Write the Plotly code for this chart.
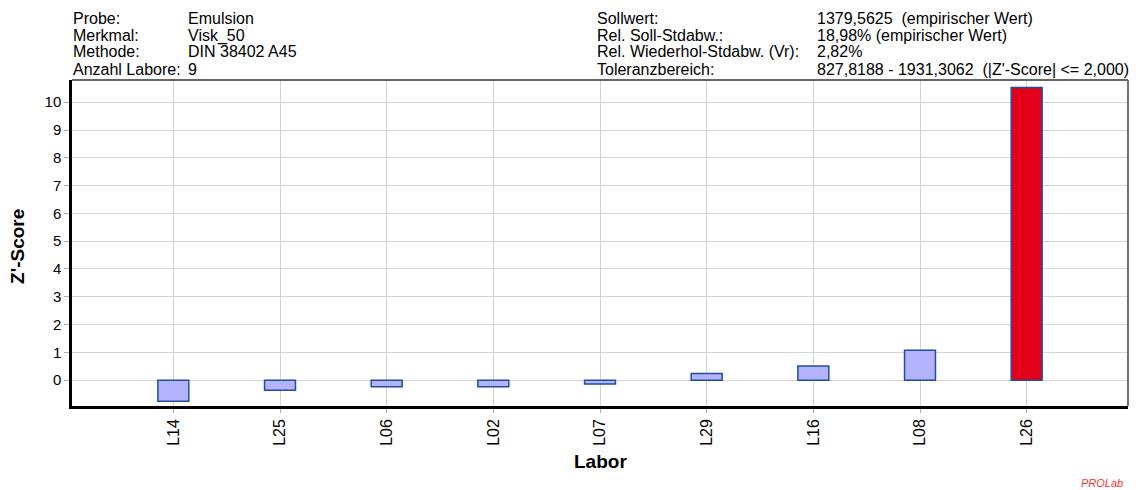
import plotly.graph_objects as go

# Z'-scores per laboratory (sorted ascending)
labs = ["L14", "L25", "L06", "L02", "L07", "L29", "L16", "L08", "L26"]
z_scores = [-0.76, -0.36, -0.24, -0.24, -0.14, 0.24, 0.51, 1.08, 10.53]
z_limit = 2.0

y_ticks = list(range(0, 11))

header_left_labels = ["Probe:", "Merkmal:", "Methode:", "Anzahl Labore:"]
header_left_values = ["Emulsion", "Visk_50", "DIN 38402 A45", "9"]
header_right_labels = ["Sollwert:", "Rel. Soll-Stdabw.:", "Rel. Wiederhol-Stdabw. (Vr):", "Toleranzbereich:"]
header_right_values = ["1379,5625  (empirischer Wert)", "18,98% (empirischer Wert)", "2,82%",
                       "827,8188 - 1931,3062  (|Z'-Score| <= 2,000)"]

FONT = "Liberation Sans, Arial, sans-serif"
fill_ok = "#b3b3ff"
fill_bad = "#e2001a"
edge = "#1f4e9e"

colors = [fill_bad if abs(z) > z_limit else fill_ok for z in z_scores]

fig = go.Figure()
fig.add_trace(go.Bar(
    x=list(range(len(labs))),
    y=z_scores,
    width=0.29,
    marker=dict(color=colors, line=dict(color=edge, width=1.5)),
    hoverinfo="skip",
))

fig.update_layout(
    width=1145, height=490,
    margin=dict(l=72, r=17, t=80, b=84),
    paper_bgcolor="white", plot_bgcolor="white",
    showlegend=False,
    font=dict(family=FONT, size=15, color="#000"),
    xaxis=dict(
        range=[-0.95, 8.95],
        tickvals=list(range(len(labs))), ticktext=labs,
        tickangle=-90,
        showgrid=True, gridcolor="#d4d4d4", gridwidth=1,
        ticks="outside", ticklen=4, tickcolor="#b0b0b0",
        showline=True, linecolor="#000", linewidth=2.5,
        zeroline=False,
        tickfont=dict(size=16),
    ),
    yaxis=dict(
        range=[-0.93, 10.8],
        tickvals=y_ticks,
        showgrid=True, gridcolor="#d4d4d4", gridwidth=1,
        ticks="outside", ticklen=5, tickcolor="#b0b0b0",
        showline=True, linecolor="#000", linewidth=2.5,
        zeroline=False,
        tickfont=dict(size=15),
    ),
)

# top and right frame lines
fig.add_shape(type="line", xref="paper", yref="paper", x0=0, x1=1, y0=1, y1=1,
              line=dict(color="#333", width=1.5))
fig.add_shape(type="line", xref="paper", yref="paper", x0=1, x1=1, y0=0, y1=1,
              line=dict(color="#707070", width=2))

# header block
line_y = [1.1887, 1.1365, 1.0859, 1.0337]
cols = [(-0.001, header_left_labels), (0.1079, header_left_values),
        (0.4951, header_right_labels), (0.7036, header_right_values)]
for xpos, texts in cols:
    for yy, t in zip(line_y, texts):
        fig.add_annotation(x=xpos, y=yy, xref="paper", yref="paper", text=t,
                           showarrow=False, xanchor="left", yanchor="middle",
                           font=dict(size=16, family=FONT))

# axis titles
fig.add_annotation(x=-0.0511, y=0.488, xref="paper", yref="paper", text="<b>Z'-Score</b>",
                   textangle=-90, showarrow=False, xanchor="center", yanchor="middle",
                   font=dict(size=19, family=FONT))
fig.add_annotation(x=0.5, y=-0.169, xref="paper", yref="paper", text="<b>Labor</b>",
                   showarrow=False, xanchor="center", yanchor="middle",
                   font=dict(size=19, family=FONT))

fig.add_annotation(x=0.997, y=-0.236, xref="paper", yref="paper", text="<i>PROLab</i>",
                   showarrow=False, xanchor="right", yanchor="middle",
                   font=dict(size=11, family=FONT, color="#ff3333"))

fig.write_html("out.html")
